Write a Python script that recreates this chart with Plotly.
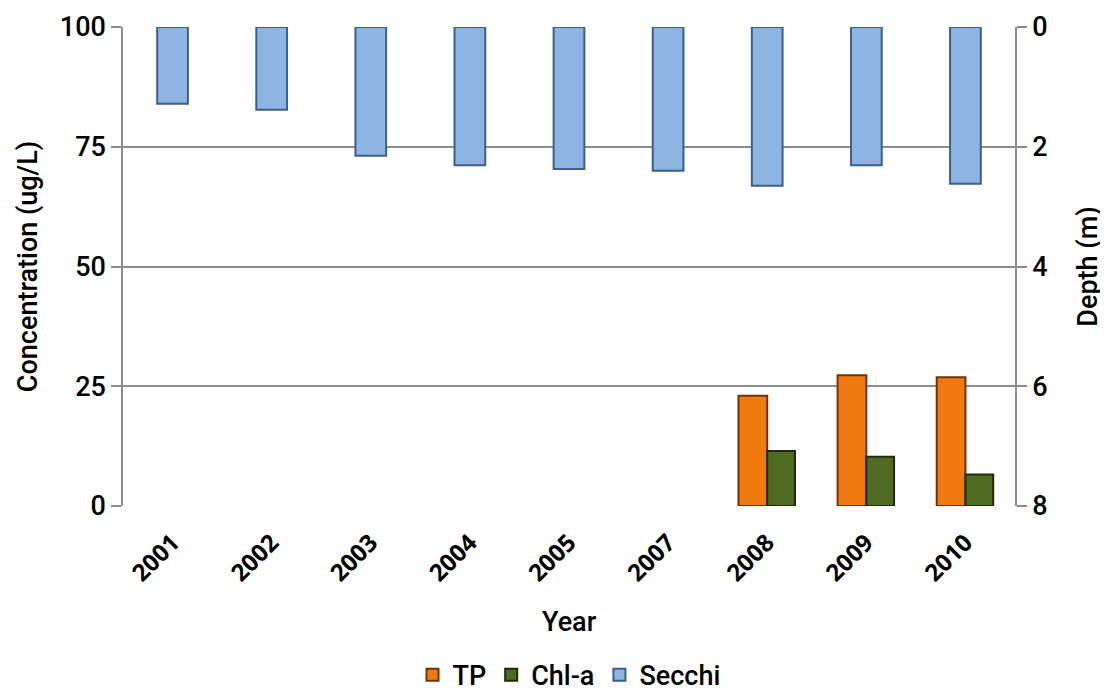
import plotly.graph_objects as go

years = ["2001", "2002", "2003", "2004", "2005", "2007", "2008", "2009", "2010"]
tp = [None, None, None, None, None, None, 23.0, 27.3, 26.9]
chla = [None, None, None, None, None, None, 11.5, 10.3, 6.6]
secchi = [1.28, 1.38, 2.15, 2.31, 2.37, 2.40, 2.65, 2.31, 2.62]

left_ticks = [0, 25, 50, 75, 100]
right_ticks = [0, 2, 4, 6, 8]

narrow = "Roboto, sans-serif"
grid = "#8c8c8c"

fig = go.Figure()

fig.add_trace(go.Bar(
    x=years, y=tp, name="TP", yaxis="y",
    marker=dict(color="#F07A10", line=dict(color="#6e3404", width=2)),
    width=0.29, offset=-0.29,
))
fig.add_trace(go.Bar(
    x=years, y=chla, name="Chl-a", yaxis="y",
    marker=dict(color="#4F6B22", line=dict(color="#1f2b0c", width=2)),
    width=0.28, offset=0.0,
))
fig.add_trace(go.Bar(
    x=years, y=secchi, name="Secchi", yaxis="y2",
    marker=dict(color="#8DB4E2", line=dict(color="#3f5f88", width=2)),
    width=0.31, offset=-0.155,
))

# the page body adds an 8px offset, margins account for it
fig.update_layout(
    width=1108, height=692,
    paper_bgcolor="white", plot_bgcolor="white",
    margin=dict(l=115, r=101, t=19, b=194, autoexpand=False),
    barmode="overlay",
    font=dict(family=narrow, size=26, color="black"),
    xaxis=dict(
        type="category", automargin=False,
        tickangle=-45,
        tickfont=dict(family="Open Sans, sans-serif", size=24, weight="bold"),
        showgrid=False, showline=False, ticks="outside", ticklen=12, tickcolor="rgba(0,0,0,0)",
    ),
    yaxis=dict(
        range=[0, 100], tickvals=left_ticks, automargin=False,
        title=dict(text="Concentration (ug/L)", font=dict(family=narrow, size=27, weight=500), standoff=14),
        tickfont=dict(family=narrow, size=27, weight=500),
        showgrid=True, gridcolor=grid, gridwidth=1.5,
        showline=True, linecolor=grid, linewidth=1.5,
        ticks="outside", ticklen=10, tickcolor=grid, tickwidth=1.5,
        zeroline=False,
    ),
    yaxis2=dict(
        overlaying="y", side="right", automargin=False,
        range=[8, 0], tickvals=right_ticks,
        title=dict(text="Depth (m)", font=dict(family=narrow, size=27, weight=500), standoff=32),
        tickfont=dict(family=narrow, size=27, weight=500),
        showgrid=False,
        showline=True, linecolor=grid, linewidth=1.5,
        ticks="outside", ticklen=10, tickcolor=grid, tickwidth=1.5,
        zeroline=False,
    ),
    legend=dict(
        orientation="h", x=0.5, xanchor="center", y=-0.353, yanchor="middle",
        font=dict(family=narrow, size=27, weight=500),
        itemwidth=30, tracegroupgap=0,
    ),
    annotations=[dict(
        text="Year", xref="paper", yref="paper", x=0.5, y=-0.242,
        xanchor="center", yanchor="middle", showarrow=False,
        font=dict(family=narrow, size=27, weight=500),
    )],
)

fig.write_html("out.html")
